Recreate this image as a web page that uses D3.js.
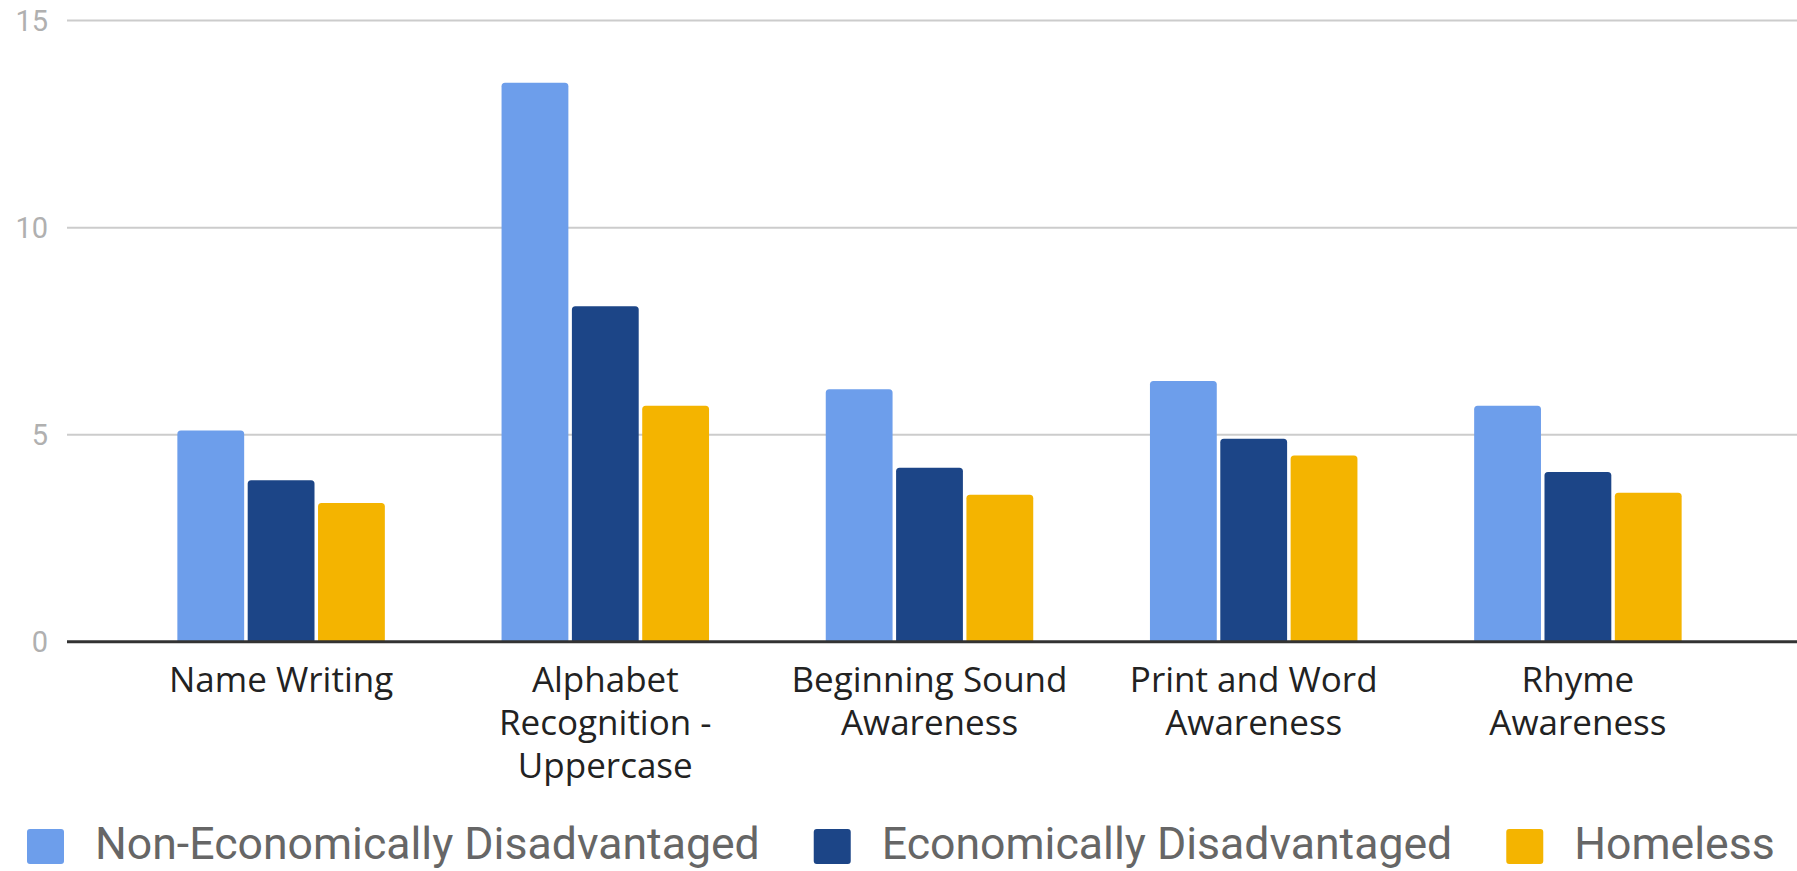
<!DOCTYPE html>
<html>
<head>
<meta charset="utf-8">
<script src="https://cdn.jsdelivr.net/npm/d3@7"></script>
<style>
html, body { margin: 0; padding: 0; background: #fff; }
svg { display: block; font-family: Roboto, "Noto Sans", sans-serif; }
</style>
</head>
<body>
<svg id="chart" width="1797" height="871"></svg>
<script>
'use strict';

var categories = ['Name Writing', 'Alphabet Recognition - Uppercase', 'Beginning Sound Awareness',
    'Print and Word Awareness', 'Rhyme Awareness'];
var categoryLines = [['Name Writing'], ['Alphabet', 'Recognition -', 'Uppercase'],
    ['Beginning Sound', 'Awareness'], ['Print and Word', 'Awareness'], ['Rhyme', 'Awareness']];
var seriesNames = ['Non-Economically Disadvantaged', 'Economically Disadvantaged', 'Homeless'];
var nonEconDisadvantaged = [5.1, 13.5, 6.1, 6.3, 5.7];
var econDisadvantaged = [3.9, 8.1, 4.2, 4.9, 4.1];
var homeless = [3.35, 5.7, 3.55, 4.5, 3.6];
var yTicks = [0, 5, 10, 15];
var seriesColors = ['#6d9eeb', '#1c4587', '#f4b400'];

var seriesValues = [nonEconDisadvantaged, econDisadvantaged, homeless];

var builder = {
    // bar with only the top corners rounded
    _barPath: function (x, y, w, h, r) {
        r = Math.min(r, h);
        return 'M' + x + ',' + (y + h) +
            'V' + (y + r) +
            'Q' + x + ',' + y + ' ' + (x + r) + ',' + y +
            'H' + (x + w - r) +
            'Q' + (x + w) + ',' + y + ' ' + (x + w) + ',' + (y + r) +
            'V' + (y + h) + 'Z';
    },

    build: function (svg) {
        var self = this;

        var y = d3.scaleLinear().domain([0, 15]).range([641.8, 20.6]);
        var x0 = d3.scaleBand().domain(categories).range([119, 1740]);
        var groupWidth = x0.bandwidth() * 0.64;
        var x1 = d3.scaleBand().domain(seriesNames).range([0, groupWidth]).paddingInner(0.05);
        var color = d3.scaleOrdinal().domain(seriesNames).range(seriesColors);

        // gridlines + tick labels
        var grid = svg.append('g');
        grid.selectAll('line')
            .data(yTicks.filter(function (d) { return d !== 0; }))
            .enter()
            .append('line')
            .attr('x1', 67)
            .attr('x2', 1797)
            .attr('y1', function (d) { return y(d); })
            .attr('y2', function (d) { return y(d); })
            .attr('stroke', '#cccccc')
            .attr('stroke-width', 2);

        grid.selectAll('text')
            .data(yTicks)
            .enter()
            .append('text')
            .attr('x', 48)
            .attr('y', function (d) { return y(d); })
            .attr('dy', '0.36em')
            .attr('text-anchor', 'end')
            .attr('font-size', 29)
            .attr('fill', '#b0b0b0')
            .text(function (d) { return d; });

        // bars
        var rows = categories.map(function (c, i) {
            return {
                category: c,
                values: seriesNames.map(function (s, j) {
                    return { series: s, value: seriesValues[j][i] };
                })
            };
        });

        var groups = svg.append('g')
            .selectAll('g')
            .data(rows)
            .enter()
            .append('g')
            .attr('transform', function (d) {
                return 'translate(' + (x0(d.category) + (x0.bandwidth() - groupWidth) / 2) + ',0)';
            });

        groups.selectAll('path')
            .data(function (d) { return d.values; })
            .enter()
            .append('path')
            .attr('d', function (d) {
                return self._barPath(x1(d.series), y(d.value), x1.bandwidth(), y(0) - y(d.value), 3.5);
            })
            .attr('fill', function (d) { return color(d.series); });

        // baseline
        svg.append('line')
            .attr('x1', 67)
            .attr('x2', 1797)
            .attr('y1', y(0))
            .attr('y2', y(0))
            .attr('stroke', '#333333')
            .attr('stroke-width', 3);

        // category labels
        svg.append('g')
            .selectAll('text')
            .data(categories)
            .enter()
            .append('text')
            .attr('x', function (d) { return x0(d) + x0.bandwidth() / 2; })
            .attr('y', 692)
            .attr('text-anchor', 'middle')
            .attr('font-family', '"Open Sans", "Noto Sans", sans-serif')
            .attr('font-size', 35)
            .attr('fill', '#222222')
            .each(function (d, i) {
                var t = d3.select(this);
                categoryLines[i].forEach(function (line, k) {
                    t.append('tspan')
                        .attr('x', x0(d) + x0.bandwidth() / 2)
                        .attr('dy', k === 0 ? 0 : 43)
                        .text(line);
                });
            });

        // legend
        var legend = svg.append('g');
        var lx = 27;
        seriesNames.forEach(function (name) {
            legend.append('rect')
                .attr('x', lx)
                .attr('y', 829)
                .attr('width', 37)
                .attr('height', 35)
                .attr('rx', 3)
                .attr('fill', color(name));
            var label = legend.append('text')
                .attr('x', lx + 37 + 31)
                .attr('y', 859)
                .attr('font-size', 44.6)
                .attr('fill', '#666666')
                .text(name);
            lx = lx + 37 + 31 + label.node().getComputedTextLength() + 54;
        });
    }
};

builder.build(d3.select('#chart'));
</script>
</body>
</html>
